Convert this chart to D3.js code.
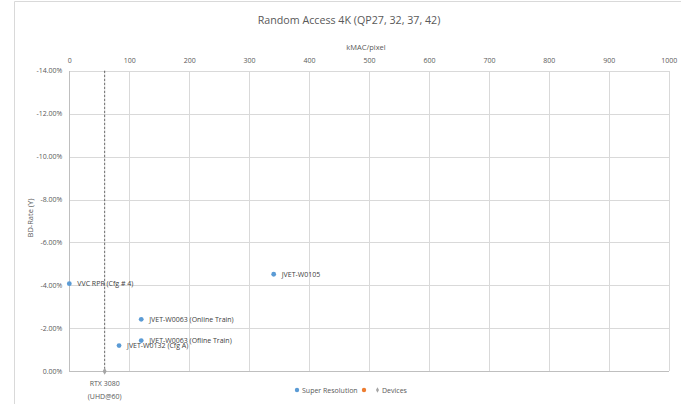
<!DOCTYPE html>
<html>
<head>
<meta charset="utf-8">
<script src="https://cdn.jsdelivr.net/npm/d3@7"></script>
<style>
  html, body { margin: 0; padding: 0; background: #fff; }
  svg { display: block; font-family: "Open Sans", "Noto Sans", sans-serif; }
</style>
</head>
<body>
<svg id="chart" width="681" height="404"></svg>
<script>
// Super-resolution methods: complexity (kMAC/pixel) vs BD-Rate (Y, %)
const srNames = ["VVC RPR (Cfg # 4)", "JVET-W0105", "JVET-W0063 (Online Train)", "JVET-W0063 (Ofline Train)", "JVET-W0132 (Cfg A)"];
const srKmac = [0, 341, 120, 120, 83];
const srBdRate = [-4.08, -4.52, -2.42, -1.43, -1.2];

// Reference device throughput
const deviceNames = ["RTX 3080", "(UHD@60)"];
const deviceKmac = [59];
const deviceBdRate = [0];

const xTicks = [0, 100, 200, 300, 400, 500, 600, 700, 800, 900, 1000];
const yTicks = [-14, -12, -10, -8, -6, -4, -2, 0];

const titleText = "Random Access 4K (QP27, 32, 37, 42)";
const xTitle = "kMAC/pixel";
const yTitle = "BD-Rate (Y)";
const legendNames = ["Super Resolution", "", "Devices"];

const svg = d3.select("#chart");
const plot = { left: 69.3, right: 668.7, top: 70.7, bottom: 371.3 };

const x = d3.scaleLinear().domain([0, 1000]).range([plot.left, plot.right]);
const y = d3.scaleLinear().domain([-14, 0]).range([plot.top, plot.bottom]);

const blue = "#5b9bd5", orange = "#ed7d31", gray = "#a5a5a5";
const textCol = "#595959";
const gridCol = "#d9d9d9";

// chart area frame
svg.append("path")
  .attr("d", "M14.5,410 V1.5 H690")
  .attr("fill", "none").attr("stroke", "#d9d9d9").attr("stroke-width", 1);

// title
svg.append("text").attr("x", 349).attr("y", 24).attr("text-anchor", "middle")
  .attr("font-size", 10.7).attr("fill", textCol).text(titleText);

// gridlines via axes
const gx = svg.append("g").attr("transform", `translate(0,${plot.bottom})`)
  .call(d3.axisTop(x).tickValues(xTicks).tickSize(plot.bottom - plot.top).tickFormat(""));
gx.select(".domain").remove();
gx.selectAll("line").attr("stroke", gridCol).attr("shape-rendering", "crispEdges");

const gy = svg.append("g").attr("transform", `translate(${plot.left},0)`)
  .call(d3.axisRight(y).tickValues(yTicks).tickSize(plot.right - plot.left).tickFormat(""));
gy.select(".domain").remove();
gy.selectAll("line").attr("stroke", gridCol).attr("shape-rendering", "crispEdges");

// axis lines (left and bottom)
svg.append("line").attr("x1", plot.left).attr("x2", plot.left).attr("y1", plot.top).attr("y2", plot.bottom)
  .attr("stroke", "#bfbfbf").attr("shape-rendering", "crispEdges");
svg.append("line").attr("x1", plot.left).attr("x2", plot.right).attr("y1", plot.bottom).attr("y2", plot.bottom)
  .attr("stroke", "#bfbfbf").attr("shape-rendering", "crispEdges");

// x tick labels along the top
const xl = svg.append("g").attr("transform", `translate(0,${plot.top - 8})`)
  .call(d3.axisTop(x).tickValues(xTicks).tickSize(0).tickPadding(0).tickFormat(d3.format("d")));
xl.select(".domain").remove();
xl.selectAll("text").attr("font-size", 7).attr("fill", textCol).attr("font-family", "Open Sans, sans-serif");

// y tick labels (plain hyphen for the minus sign)
const yl = svg.append("g").attr("transform", `translate(${plot.left - 7},0)`)
  .call(d3.axisLeft(y).tickValues(yTicks).tickSize(0).tickPadding(0).tickFormat(d => d.toFixed(2) + "%"));
yl.select(".domain").remove();
yl.selectAll("text").attr("font-size", 7).attr("fill", textCol).attr("font-family", "Open Sans, sans-serif");

// axis titles
svg.append("text").attr("x", 366).attr("y", 50).attr("text-anchor", "middle")
  .attr("font-size", 7.5).attr("fill", textCol).text(xTitle);
svg.append("text").attr("transform", "translate(33,218) rotate(-90)").attr("text-anchor", "middle")
  .attr("font-size", 7.5).attr("fill", textCol).text(yTitle);

// device marker: dashed vertical line over full y range
deviceKmac.forEach((k, i) => {
  svg.append("line").attr("x1", x(k)).attr("x2", x(k))
    .attr("y1", y(-14)).attr("y2", y(deviceBdRate[i]))
    .attr("stroke", "#404040").attr("stroke-width", 0.8).attr("stroke-dasharray", "2.5,1.5");
  svg.append("path").attr("d", d3.symbol(d3.symbolDiamond, 14)())
    .attr("transform", `translate(${x(k)},${y(deviceBdRate[i])})`).attr("fill", gray);
});
deviceNames.forEach((t, i) => {
  svg.append("text").attr("x", x(deviceKmac[0])).attr("y", 386 + i * 13).attr("text-anchor", "middle")
    .attr("font-size", 7).attr("fill", textCol).text(t);
});

// super resolution points and labels
const srData = srNames.map((n, i) => ({ name: n, k: srKmac[i], v: srBdRate[i] }));
svg.append("g").selectAll("circle").data(srData).join("circle")
  .attr("cx", d => x(d.k)).attr("cy", d => y(d.v)).attr("r", 2.4).attr("fill", blue);
svg.append("g").selectAll("text").data(srData).join("text")
  .attr("x", d => x(d.k) + 8).attr("y", d => y(d.v) + 2.6)
  .attr("font-size", 7).attr("fill", "#404040").text(d => d.name);

// legend
const lg = svg.append("g").attr("transform", "translate(0,390)");
lg.append("circle").attr("cx", 297).attr("cy", 0).attr("r", 2.2).attr("fill", blue);
lg.append("text").attr("x", 302).attr("y", 2.5).attr("font-size", 7).attr("fill", textCol).text(legendNames[0]);
lg.append("circle").attr("cx", 364).attr("cy", 0).attr("r", 2.2).attr("fill", orange);
lg.append("path").attr("d", d3.symbol(d3.symbolDiamond, 8)()).attr("transform", "translate(377.5,0)").attr("fill", gray);
lg.append("text").attr("x", 382).attr("y", 2.5).attr("font-size", 7).attr("fill", textCol).text(legendNames[2]);
</script>
</body>
</html>
